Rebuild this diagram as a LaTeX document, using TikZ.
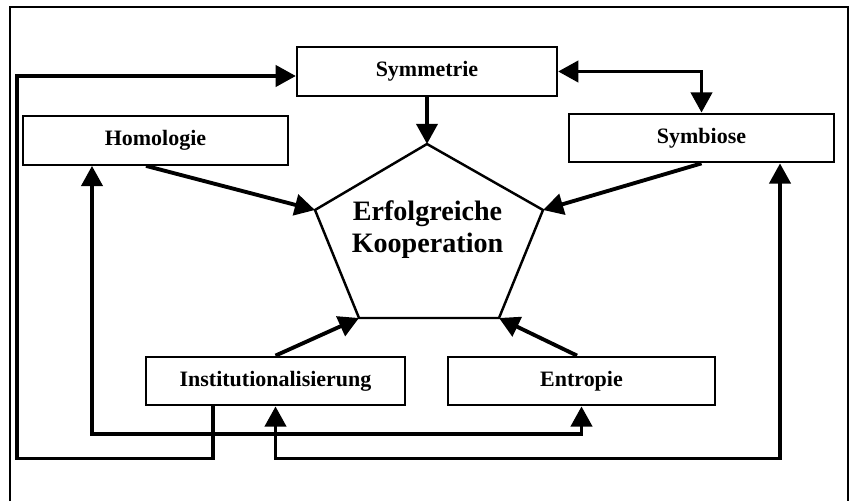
\documentclass[tikz,border=0pt]{standalone}
\usepackage{fontspec}
\setmainfont{Liberation Serif}
\usetikzlibrary{arrows.meta}
\tikzset {>={Triangle[length=11.5pt,width=12pt]}}
\tikzset{
  box/.style={draw,line width=1.3pt,minimum height=0.97cm,
    font=\fontsize{12.5}{15}\selectfont\bfseries},
  link/.style={line width=2.2pt}
}

\begin{document}
\begin{tikzpicture}
\useasboundingbox (0,0) rectangle (17.04,10.02);
\draw[line width=.7pt] (0.2,0) -- (0.2,9.88) -- (16.96,9.88) -- (16.96,0);

\node[box,minimum width=5.2cm] (sym) at (8.54,8.59) {Symmetrie};
\node[box,minimum width=5.3cm] (hom) at (3.11,7.21) {Homologie};
\node[box,minimum width=5.3cm] (symb) at (14.03,7.26) {Symbiose};
\node[box,minimum width=5.18cm] (inst) at (5.51,2.40) {Institutionalisierung};
\node[box,minimum width=5.34cm] (entr) at (11.63,2.40) {Entropie};

% pentagon
\coordinate (top) at (8.54,7.14);
\coordinate (ul) at (6.30,5.82);
\coordinate (ur) at (10.86,5.82);
\coordinate (bl) at (7.18,3.66);
\coordinate (br) at (9.98,3.66);
\draw[line width=1.4pt] (top) -- (ur) -- (br) -- (bl) -- (ul) -- cycle;
\node[font=\fontsize{16}{18.2}\selectfont\bfseries,align=center] (koop) at (8.55,5.42) {Erfolgreiche\\Kooperation};

\draw[link,->] (sym.south) -- (top);
\draw[link,<->] (sym.east) -| (symb.north);
\draw[link,->] ([xshift=-0.19cm]hom.south) -- (ul);
\draw[link,->] (symb.south) -- (ur);
\draw[link,->] (inst.north) -- (bl);
\draw[link,->] ([xshift=-0.09cm]entr.north) -- (br);

% loops below
\coordinate (lowleft) at (0.34,0.85);
\coordinate (homturn) at (11.63,1.34);
\coordinate (instturn) at (5.51,0.85);
\draw[link,->] ([xshift=-1.25cm]inst.south) |- (lowleft) |- ([yshift=-0.09cm]sym.west);
\draw[link,<->] ([xshift=-1.27cm]hom.south) |- (homturn) -- (entr.south);
\draw[link,<->] ([xshift=1.57cm]symb.south) |- (instturn) -- (inst.south);
\end{tikzpicture}
\end{document}
